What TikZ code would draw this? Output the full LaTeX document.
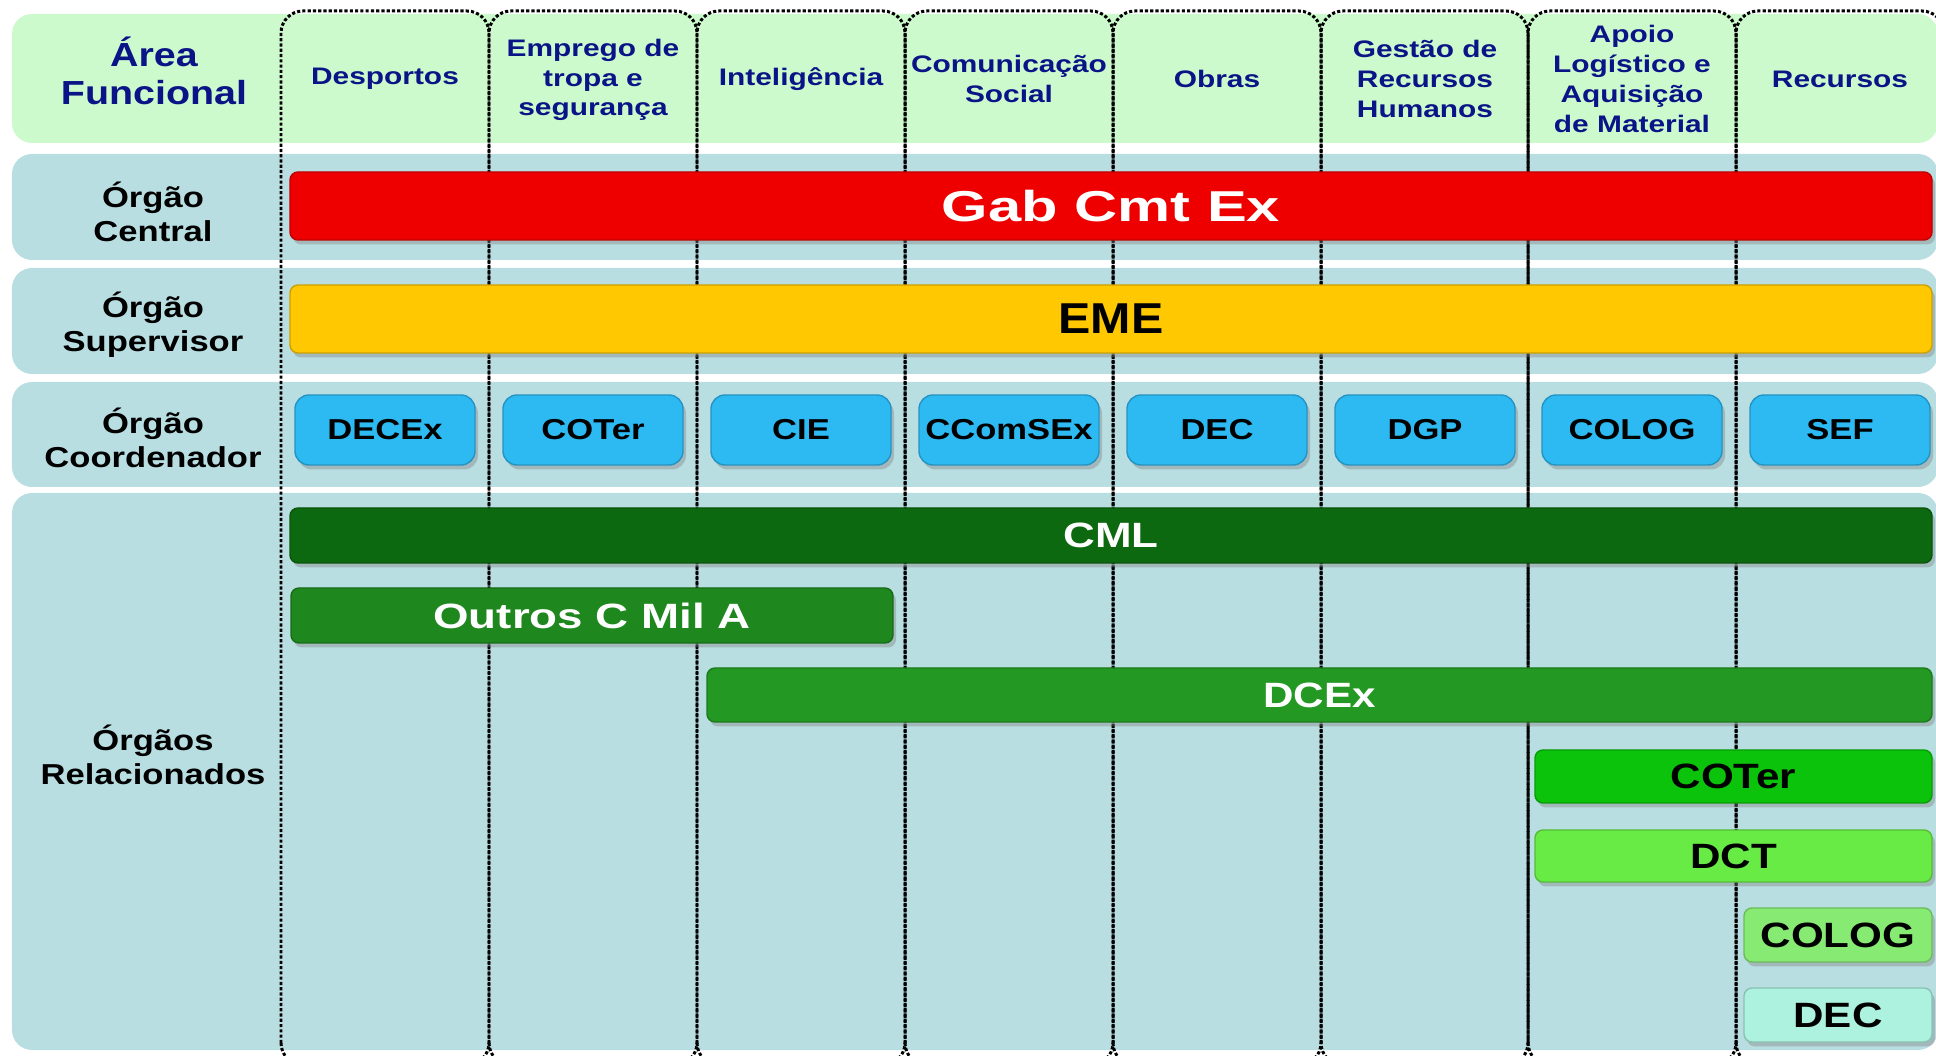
\documentclass[tikz,border=0pt]{standalone}
\usepackage{fontspec}
\setmainfont{Liberation Sans}
\usepackage{graphicx}
\usepackage{tikz}
\usetikzlibrary{shadows}
\usepackage{xcolor}
\definecolor{hdrgreen}{RGB}{204,250,204}
\definecolor{rowblue}{RGB}{185,222,226}
\definecolor{navytxt}{RGB}{10,20,135}
\definecolor{gabred}{RGB}{238,0,0}
\definecolor{emegold}{RGB}{255,200,0}
\definecolor{coordblue}{RGB}{45,185,242}
\definecolor{cmlgreen}{RGB}{12,105,15}
\definecolor{outrosgreen}{RGB}{30,135,30}
\definecolor{dcexgreen}{RGB}{35,152,35}
\definecolor{cotergreen}{RGB}{10,195,10}
\definecolor{dctgreen}{RGB}{105,235,70}
\definecolor{cologgreen}{RGB}{135,235,115}
\definecolor{decmint}{RGB}{172,242,222}
\newcommand{\wtxt}[2][1.2]{\scalebox{#1}[1]{#2}}

\begin{document}
\begin{tikzpicture}[line cap=round,
  hdrbg/.style={fill=hdrgreen,rounded corners=0.2cm},
  rowbg/.style={fill=rowblue,rounded corners=0.2cm},
  colline/.style={line width=0.85pt,line cap=butt,dash pattern=on 0.9pt off 0.6pt,rounded corners=0.22cm},
  area/.style={text=navytxt,align=center,xscale=1.18,font=\fontsize{9.5}{10.8}\selectfont\bfseries},
  func/.style={text=navytxt,align=center,xscale=1.25,font=\fontsize{6.8}{8.5}\selectfont\bfseries},
  orgao/.style={align=center,xscale=1.2,font=\fontsize{8.2}{9.6}\selectfont\bfseries},
  bar/.style={fill=#1,draw=#1!80!black,line width=0.4pt,rounded corners=0.08cm,inner sep=0pt,
    drop shadow={shadow xshift=0.03cm,shadow yshift=-0.045cm,opacity=0.4},
    font=\fontsize{10}{12}\selectfont\bfseries},
  coord/.style={bar=coordblue,rounded corners=0.14cm,minimum width=1.8cm,minimum height=0.7cm,
    font=\fontsize{8.2}{10}\selectfont\bfseries}]
\useasboundingbox (0,0) rectangle (19.36,10.56);
\clip (0,0) rectangle (19.36,10.56);

\fill[hdrbg] (0.12,9.13) rectangle (19.38,10.42);
\fill[rowbg] (0.12,7.96) rectangle (19.38,9.02);
\fill[rowbg] (0.12,6.82) rectangle (19.38,7.88);
\fill[rowbg] (0.12,5.69) rectangle (19.38,6.74);
\fill[rowbg] (0.12,0.06) rectangle (19.38,5.63);

\draw[colline] (2.81,-0.09) rectangle (4.89,10.45);
\draw[colline] (4.89,-0.09) rectangle (6.97,10.45);
\draw[colline] (6.97,-0.09) rectangle (9.05,10.45);
\draw[colline] (9.05,-0.09) rectangle (11.13,10.45);
\draw[colline] (11.13,-0.09) rectangle (13.21,10.45);
\draw[colline] (13.21,-0.09) rectangle (15.28,10.45);
\draw[colline] (15.28,-0.09) rectangle (17.36,10.45);
\draw[colline] (17.36,-0.09) rectangle (19.44,10.45);

\node[area] (areafunc) at (1.54,9.85) {Área\\Funcional};
\node[orgao] (central) at (1.53,8.44) {Órgão\\Central};
\node[orgao] (supervisor) at (1.53,7.31) {Órgão\\Supervisor};
\node[orgao] (coordenador) at (1.53,6.18) {Órgão\\Coordenador};
\node[orgao] (relacionados) at (1.53,3.01) {Órgãos\\Relacionados};

\node[func] (desportos) at (3.85,9.77) {Desportos};
\node[func] (emprego) at (5.93,9.76) {Emprego de\\tropa e\\segurança};
\node[func] (intelig) at (8.01,9.77) {Inteligência};
\node[func] (comsoc) at (10.09,9.77) {Comunicação\\Social};
\node[func] (obras) at (12.17,9.77) {Obras};
\node[func] (gestao) at (14.25,9.77) {Gestão de\\Recursos\\Humanos};
\node[func] (apoio) at (16.32,9.77) {Apoio\\Logístico e\\Aquisição\\de Material};
\node[func] (recursos) at (18.40,9.77) {Recursos};

\node[bar=gabred,text=white,minimum width=16.42cm,minimum height=0.68cm,
  font=\fontsize{12.3}{14}\selectfont\bfseries] (gab) at (11.11,8.50) {\wtxt[1.38]{Gab Cmt Ex}};
\node[bar=emegold,minimum width=16.42cm,minimum height=0.68cm,
  font=\fontsize{12.3}{14}\selectfont\bfseries] (eme) at (11.11,7.37) {\wtxt[1.12]{EME}};

\node[coord] (decex) at (3.85,6.26) {\wtxt{DECEx}};
\node[coord] (coter) at (5.93,6.26) {\wtxt{COTer}};
\node[coord] (cie) at (8.01,6.26) {\wtxt{CIE}};
\node[coord] (ccomsex) at (10.09,6.26) {\wtxt{CComSEx}};
\node[coord] (dec) at (12.17,6.26) {\wtxt{DEC}};
\node[coord] (dgp) at (14.25,6.26) {\wtxt{DGP}};
\node[coord] (colog) at (16.32,6.26) {\wtxt{COLOG}};
\node[coord] (sef) at (18.40,6.26) {\wtxt{SEF}};

\node[bar=cmlgreen,text=white,minimum width=16.42cm,minimum height=0.55cm] (cml) at (11.11,5.205) {\wtxt[1.25]{CML}};
\node[bar=outrosgreen,text=white,minimum width=6.02cm,minimum height=0.55cm] (outros) at (5.92,4.405) {\wtxt[1.3]{Outros C Mil A}};
\node[bar=dcexgreen,text=white,minimum width=12.25cm,minimum height=0.54cm] (dcex) at (13.195,3.61) {\wtxt{DCEx}};
\node[bar=cotergreen,minimum width=3.97cm,minimum height=0.53cm] (coterrel) at (17.335,2.795) {\wtxt{COTer}};
\node[bar=dctgreen,minimum width=3.97cm,minimum height=0.52cm] (dct) at (17.335,2.00) {\wtxt{DCT}};
\node[bar=cologgreen,minimum width=1.88cm,minimum height=0.54cm] (cologrel) at (18.38,1.21) {\wtxt{COLOG}};
\node[bar=decmint,minimum width=1.88cm,minimum height=0.54cm] (decrel) at (18.38,0.41) {\wtxt{DEC}};
\end{tikzpicture}
\end{document}
